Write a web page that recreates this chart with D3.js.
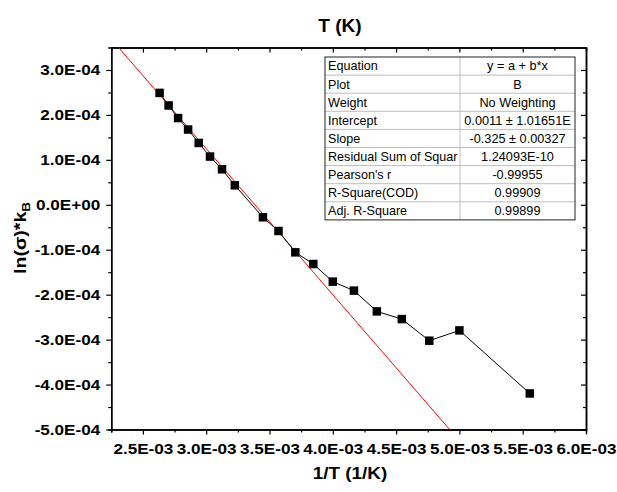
<!DOCTYPE html>
<html>
<head>
<meta charset="utf-8">
<script src="https://cdn.jsdelivr.net/npm/d3@7"></script>
<style>
    body { margin: 0; background: #fff; }
    svg { font-family: "Liberation Sans", Arial, sans-serif; }
    .tick text { font-weight: bold; font-size: 14.5px; fill: #000; }
    .stretch { transform-box: fill-box; transform-origin: center; transform: scaleX(1.18); }
    .stretch-r { transform-box: fill-box; transform-origin: right center; transform: scaleX(1.18); }
    .stretch-l { transform-box: fill-box; transform-origin: left center; transform: scaleX(1.05); }
    .stretch-t { transform-box: fill-box; transform-origin: center; transform: scaleX(1.06); }
</style>
</head>
<body>
<svg id="chart" width="617" height="492"></svg>
<script>
// 1/T values (1/K) and ln(sigma)*kB
const invT = [2.632e-3, 2.703e-3, 2.778e-3, 2.857e-3, 2.941e-3, 3.030e-3, 3.125e-3, 3.226e-3,
    3.448e-3, 3.571e-3, 3.704e-3, 3.846e-3, 4.000e-3, 4.167e-3, 4.348e-3, 4.545e-3,
    4.762e-3, 5.000e-3, 5.556e-3];
const lnSigmaKb = [2.49e-4, 2.21e-4, 1.93e-4, 1.675e-4, 1.376e-4, 1.073e-4, 0.79e-4, 0.434e-4,
    -0.278e-4, -0.583e-4, -1.058e-4, -1.318e-4, -1.71e-4, -1.91e-4, -2.372e-4, -2.543e-4,
    -3.024e-4, -2.795e-4, -4.198e-4];

// linear fit y = a + b*x
const fitIntercept = 0.0011;
const fitSlope = -0.325;

const xTicks = [2.5e-3, 3.0e-3, 3.5e-3, 4.0e-3, 4.5e-3, 5.0e-3, 5.5e-3, 6.0e-3];
const yTicks = [-5e-4, -4e-4, -3e-4, -2e-4, -1e-4, 0, 1e-4, 2e-4, 3e-4];

const statLabels = ["Equation", "Plot", "Weight", "Intercept", "Slope",
    "Residual Sum of Squar", "Pearson's r", "R-Square(COD)", "Adj. R-Square"];
const statValues = ["y = a + b*x", "B", "No Weighting", "0.0011 \u00b1 1.01651E",
    "-0.325 \u00b1 0.00327", "1.24093E-10", "-0.99955", "0.99909", "0.99899"];

const svg = d3.select("#chart");
const pLeft = 111.25, pRight = 586, pTop = 47.5, pBottom = 429.5;

const x = d3.scaleLinear().domain([2.25e-3, 6.0e-3]).range([pLeft, pRight]);
const y = d3.scaleLinear().domain([-5e-4, 3.5e-4]).range([pBottom, pTop]);

function sci(v) {
    const parts = v.toExponential(1).split("e");
    let e = parseInt(parts[1]);
    const sign = e < 0 ? "-" : "+";
    e = Math.abs(e);
    return parts[0] + "E" + sign + (e < 10 ? "0" + e : e);
}

const xMinor = xTicks.map(d => d - 0.25e-3);
const yMinor = yTicks.slice(1).map(d => d - 0.5e-4);

// minor ticks first
svg.append("g").attr("transform", `translate(0,${pBottom})`)
    .call(d3.axisBottom(x).tickValues(xMinor).tickSize(3).tickFormat(""));
svg.append("g").attr("transform", `translate(0,${pTop})`)
    .call(d3.axisTop(x).tickValues(xMinor).tickSize(-3).tickFormat(""));
svg.append("g").attr("transform", `translate(${pLeft},0)`)
    .call(d3.axisLeft(y).tickValues(yMinor).tickSize(3).tickFormat(""));
svg.append("g").attr("transform", `translate(${pRight},0)`)
    .call(d3.axisRight(y).tickValues(yMinor).tickSize(-3).tickFormat(""));

// major ticks
const xAxis = svg.append("g").attr("transform", `translate(0,${pBottom})`)
    .call(d3.axisBottom(x).tickValues(xTicks).tickSize(5).tickSizeOuter(0).tickPadding(9).tickFormat(sci));
const yAxis = svg.append("g").attr("transform", `translate(${pLeft},0)`)
    .call(d3.axisLeft(y).tickValues(yTicks).tickSize(5).tickSizeOuter(0).tickPadding(6).tickFormat(sci));
svg.append("g").attr("transform", `translate(0,${pTop})`)
    .call(d3.axisTop(x).tickValues(xTicks).tickSize(-5).tickSizeOuter(0).tickFormat(""));
svg.append("g").attr("transform", `translate(${pRight},0)`)
    .call(d3.axisRight(y).tickValues(yTicks).tickSize(-5).tickSizeOuter(0).tickFormat(""));

xAxis.selectAll(".tick text").attr("class", "stretch");
yAxis.selectAll(".tick text").attr("class", "stretch-r");

svg.selectAll(".domain").attr("stroke", "#000").attr("stroke-width", 1.5);
svg.selectAll(".tick line").attr("stroke", "#000").attr("stroke-width", 1.2);

// fit line, clipped to the plot box
svg.append("clipPath").attr("id", "clip")
    .append("rect").attr("x", pLeft).attr("y", pTop)
    .attr("width", pRight - pLeft).attr("height", pBottom - pTop);

const fitX = x.domain();
svg.append("line")
    .attr("clip-path", "url(#clip)")
    .attr("x1", x(fitX[0])).attr("y1", y(fitIntercept + fitSlope * fitX[0]))
    .attr("x2", x(fitX[1])).attr("y2", y(fitIntercept + fitSlope * fitX[1]))
    .attr("stroke", "#ff0000").attr("stroke-width", 1);

// data
const pts = invT.map((d, i) => [d, lnSigmaKb[i]]);
svg.append("path")
    .datum(pts)
    .attr("fill", "none")
    .attr("stroke", "#000")
    .attr("stroke-width", 1)
    .attr("d", d3.line().x(d => x(d[0])).y(d => y(d[1])));

const ms = 8.5;
svg.selectAll("rect.pt")
    .data(pts)
    .enter()
    .append("rect")
    .attr("class", "pt")
    .attr("x", d => x(d[0]) - ms / 2)
    .attr("y", d => y(d[1]) - ms / 2)
    .attr("width", ms)
    .attr("height", ms)
    .attr("fill", "#000");

// stats table
const tLeft = 325, tRight = 575, tTop = 57, rowH = 18.1, tMid = 460;
const table = svg.append("g");
table.append("rect")
    .attr("x", tLeft).attr("y", tTop)
    .attr("width", tRight - tLeft).attr("height", rowH * statLabels.length)
    .attr("fill", "#fff");
statLabels.forEach((lab, i) => {
    if (i > 0) {
        table.append("line")
            .attr("x1", tLeft).attr("x2", tRight)
            .attr("y1", tTop + i * rowH).attr("y2", tTop + i * rowH)
            .attr("stroke", "#bdbdbd");
    }
    table.append("text")
        .attr("class", "stretch-l")
        .attr("x", tLeft + 3)
        .attr("y", tTop + i * rowH + 13.5)
        .attr("font-size", "12px")
        .text(lab);
    table.append("text")
        .attr("class", "stretch-t")
        .attr("x", (tMid + tRight) / 2)
        .attr("y", tTop + i * rowH + 13.5)
        .attr("text-anchor", "middle")
        .attr("font-size", "12px")
        .text(statValues[i]);
});
table.append("line")
    .attr("x1", tMid).attr("x2", tMid)
    .attr("y1", tTop).attr("y2", tTop + rowH * statLabels.length)
    .attr("stroke", "#bdbdbd");
table.append("rect")
    .attr("x", tLeft).attr("y", tTop)
    .attr("width", tRight - tLeft).attr("height", rowH * statLabels.length)
    .attr("fill", "none")
    .attr("stroke", "#222");

// titles
svg.append("text")
    .attr("x", 340).attr("y", 32)
    .attr("text-anchor", "middle")
    .attr("font-weight", "bold").attr("font-size", "18px")
    .attr("class", "stretch-t")
    .text("T (K)");

svg.append("text")
    .attr("x", 350).attr("y", 479)
    .attr("text-anchor", "middle")
    .attr("font-weight", "bold").attr("font-size", "16px")
    .attr("class", "stretch")
    .text("1/T (1/K)");

const yl = svg.append("text")
    .attr("transform", "translate(26,238) rotate(-90)")
    .attr("text-anchor", "middle")
    .attr("font-weight", "bold").attr("font-size", "16px")
    .attr("textLength", 72)
    .attr("lengthAdjust", "spacingAndGlyphs");
yl.append("tspan").text("ln(\u03c3)*k");
yl.append("tspan").attr("font-size", "11px").attr("dy", 4).text("B");
</script>
</body>
</html>
